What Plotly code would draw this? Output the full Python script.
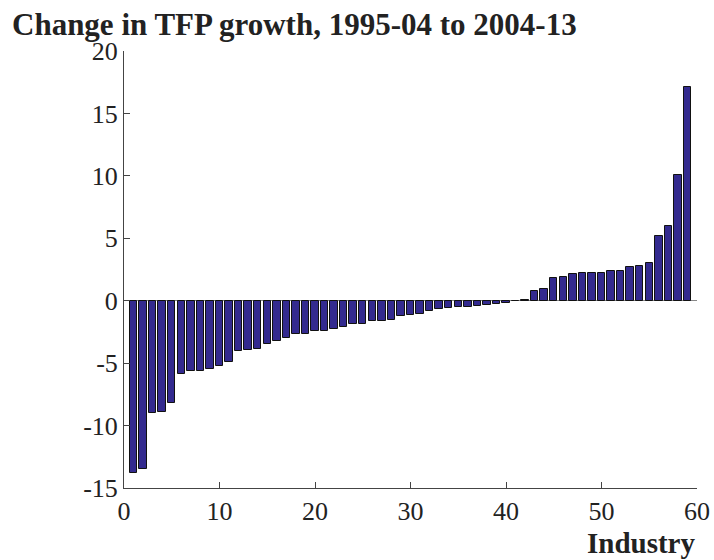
import plotly.graph_objects as go

industry = list(range(1, 60))
tfp_change = [
    -13.8, -13.5, -9.0, -8.9, -8.2, -5.85, -5.6, -5.6, -5.45, -5.25,
    -4.9, -4.0, -3.95, -3.85, -3.5, -3.2, -3.0, -2.7, -2.65, -2.4,
    -2.4, -2.3, -2.1, -1.9, -1.85, -1.65, -1.6, -1.55, -1.25, -1.15,
    -1.05, -0.85, -0.7, -0.55, -0.5, -0.48, -0.45, -0.35, -0.3, -0.18,
    -0.05, 0.05, 0.8, 0.9, 1.8, 1.87, 2.1, 2.2, 2.2, 2.24,
    2.35, 2.37, 2.67, 2.8, 3.04, 5.2, 6.0, 10.1, 17.1,
]
x_ticks = [0, 10, 20, 30, 40, 50, 60]
x_tick_labels = ["0", "10", "20", "30", "40", "50", "60"]
y_ticks = [-15, -10, -5, 0, 5, 10, 15, 20]
y_tick_labels = ["-15", "-10", "-5", "0", "5", "10", "15", "20"]
title_text = "Change in TFP growth, 1995-04 to 2004-13"
xlabel_text = "Industry"

serif = "Liberation Serif, Times New Roman, serif"
plot_h = 560 - 51 - 72
plot_w = 714 - 124 - 17

fig = go.Figure(go.Bar(
    x=industry, y=tfp_change, width=0.78,
    marker=dict(color="#332a8f", line=dict(color="#111111", width=1)),
))

fig.update_layout(
    width=714, height=560,
    margin=dict(l=124, r=17, t=51, b=72),
    plot_bgcolor="white", paper_bgcolor="white",
    showlegend=False, bargap=0,
    font=dict(family=serif, size=26, color="#222222"),
    annotations=[
        dict(text="<b>" + title_text + "</b>", xref="paper", yref="paper",
             x=(10 - 124) / plot_w, y=1 + 27 / plot_h, xanchor="left", yanchor="middle",
             showarrow=False, font=dict(family=serif, size=31, color="#222222")),
        dict(text="<b>" + xlabel_text + "</b>", xref="paper", yref="paper",
             x=1, y=-55 / plot_h, xanchor="right", yanchor="middle",
             showarrow=False, font=dict(family=serif, size=29, color="#222222")),
    ],
)
fig.update_xaxes(range=[0, 60], tickvals=x_ticks, ticktext=x_tick_labels,
                 ticks="inside", ticklen=6, automargin=False,
                 showline=True, linecolor="#444444", linewidth=1, showgrid=False,
                 zeroline=False, tickcolor="#444444")
fig.update_yaxes(range=[-15, 20], tickvals=y_ticks, ticktext=y_tick_labels,
                 ticks="inside", ticklen=6, automargin=False,
                 showline=True, linecolor="#444444", linewidth=1, showgrid=False,
                 zeroline=True, zerolinecolor="#888888", zerolinewidth=1,
                 tickcolor="#444444")

fig.write_html("out.html", config={"displayModeBar": False},
               post_script="document.body.style.margin='0';")
